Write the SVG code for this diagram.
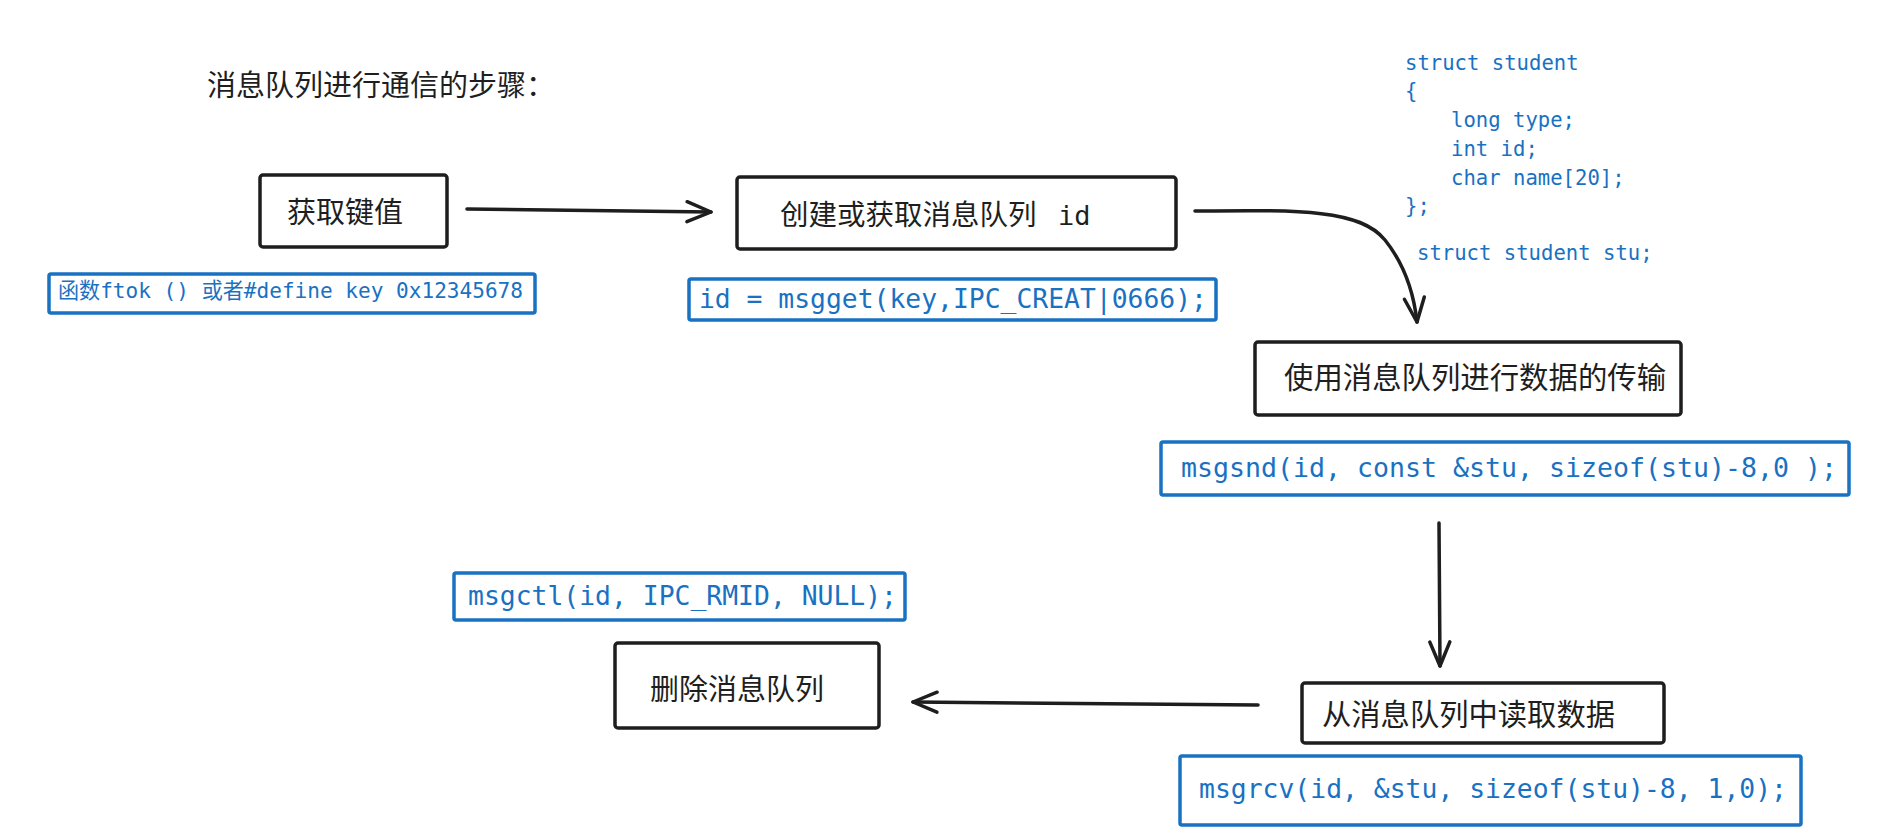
<svg xmlns="http://www.w3.org/2000/svg" width="1887" height="839" viewBox="0 0 1887 839">
  <style>
    .node { fill: #ffffff; stroke: #1e1e1e; stroke-width: 3.5; }
    .code { fill: #ffffff; stroke: #1971c2; stroke-width: 3.5; }
    .label { font-family: "Noto Sans CJK SC", "Noto Sans", sans-serif; fill: #1e1e1e; }
    .ctext { font-family: "DejaVu Sans Mono", "Noto Sans CJK SC", monospace; fill: #1971c2; }
    .conn { fill: none; stroke: #1e1e1e; stroke-width: 3.5; stroke-linecap: round; stroke-linejoin: round; }
  </style>
  <defs>
    <marker id="arrow" markerUnits="userSpaceOnUse" viewBox="0 0 30 30" markerWidth="30" markerHeight="30" refX="27" refY="15" orient="auto" overflow="visible">
      <path d="M3,5 L27,15 L3,25" fill="none" stroke="#1e1e1e" stroke-width="3.5" stroke-linecap="round" stroke-linejoin="round"/>
    </marker>
  </defs>
  <rect width="1887" height="839" fill="#ffffff"/>

  <g id="title">
    <text class="label" x="207" y="96" font-size="29">消息队列进行通信的步骤：</text>
  </g>

  <g id="connectors">
    <path class="conn" d="M467,209 L711,212" marker-end="url(#arrow)"/>
    <path class="conn" d="M1195,211 C1300,210 1360,209 1385,240 C1405,265 1414,295 1417,322" marker-end="url(#arrow)"/>
    <path class="conn" d="M1439,523 L1440,666" marker-end="url(#arrow)"/>
    <path class="conn" d="M1258,705 L913,702" marker-end="url(#arrow)"/>
  </g>

  <g id="get-key">
    <rect class="node" x="260" y="175" width="187" height="72" rx="3"/>
    <text class="label" x="287" y="223" font-size="29">获取键值</text>
  </g>
  <g id="ftok-note">
    <rect class="code" x="49" y="274" width="486" height="39" rx="2"/>
    <text class="ctext" x="58" y="298" font-size="21.5" textLength="465" lengthAdjust="spacingAndGlyphs">函数ftok () 或者#define key 0x12345678</text>
  </g>

  <g id="create-queue">
    <rect class="node" x="737" y="177" width="439" height="72" rx="3"/>
    <text class="label" x="780" y="225" font-size="28.5">创建或获取消息队列<tspan x="1058" font-family="DejaVu Sans Mono, monospace" font-size="27">id</tspan></text>
  </g>
  <g id="msgget-note">
    <rect class="code" x="689" y="279" width="527" height="41" rx="2"/>
    <text class="ctext" x="699" y="308" font-size="26.3" textLength="508" lengthAdjust="spacingAndGlyphs">id = msgget(key,IPC_CREAT|0666);</text>
  </g>

  <g id="struct-note">
    <text class="ctext" font-size="20.6">
      <tspan x="1405" y="70">struct student</tspan>
      <tspan x="1405" y="98">{</tspan>
      <tspan x="1451" y="127">long type;</tspan>
      <tspan x="1451" y="156">int id;</tspan>
      <tspan x="1451" y="185">char name[20];</tspan>
      <tspan x="1405" y="213">};</tspan>
      <tspan x="1417" y="260">struct student stu;</tspan>
    </text>
  </g>

  <g id="use-queue">
    <rect class="node" x="1255" y="342" width="426" height="73" rx="3"/>
    <text class="label" x="1284" y="388" font-size="29.4">使用消息队列进行数据的传输</text>
  </g>
  <g id="msgsnd-note">
    <rect class="code" x="1161" y="442" width="688" height="53" rx="2"/>
    <text class="ctext" x="1181" y="477" font-size="26.5" textLength="656" lengthAdjust="spacingAndGlyphs">msgsnd(id, const &amp;stu, sizeof(stu)-8,0 );</text>
  </g>

  <g id="read-queue">
    <rect class="node" x="1302" y="683" width="362" height="60" rx="3"/>
    <text class="label" x="1322" y="725" font-size="29.3">从消息队列中读取数据</text>
  </g>
  <g id="msgrcv-note">
    <rect class="code" x="1180" y="756" width="621" height="69" rx="2"/>
    <text class="ctext" x="1199" y="798" font-size="26.4" textLength="588" lengthAdjust="spacingAndGlyphs">msgrcv(id, &amp;stu, sizeof(stu)-8, 1,0);</text>
  </g>

  <g id="delete-queue">
    <rect class="node" x="615" y="643" width="264" height="85" rx="3"/>
    <text class="label" x="650" y="700" font-size="29">删除消息队列</text>
  </g>
  <g id="msgctl-note">
    <rect class="code" x="454" y="573" width="451" height="47" rx="2"/>
    <text class="ctext" x="468" y="605" font-size="26.4" textLength="429" lengthAdjust="spacingAndGlyphs">msgctl(id, IPC_RMID, NULL);</text>
  </g>
</svg>
